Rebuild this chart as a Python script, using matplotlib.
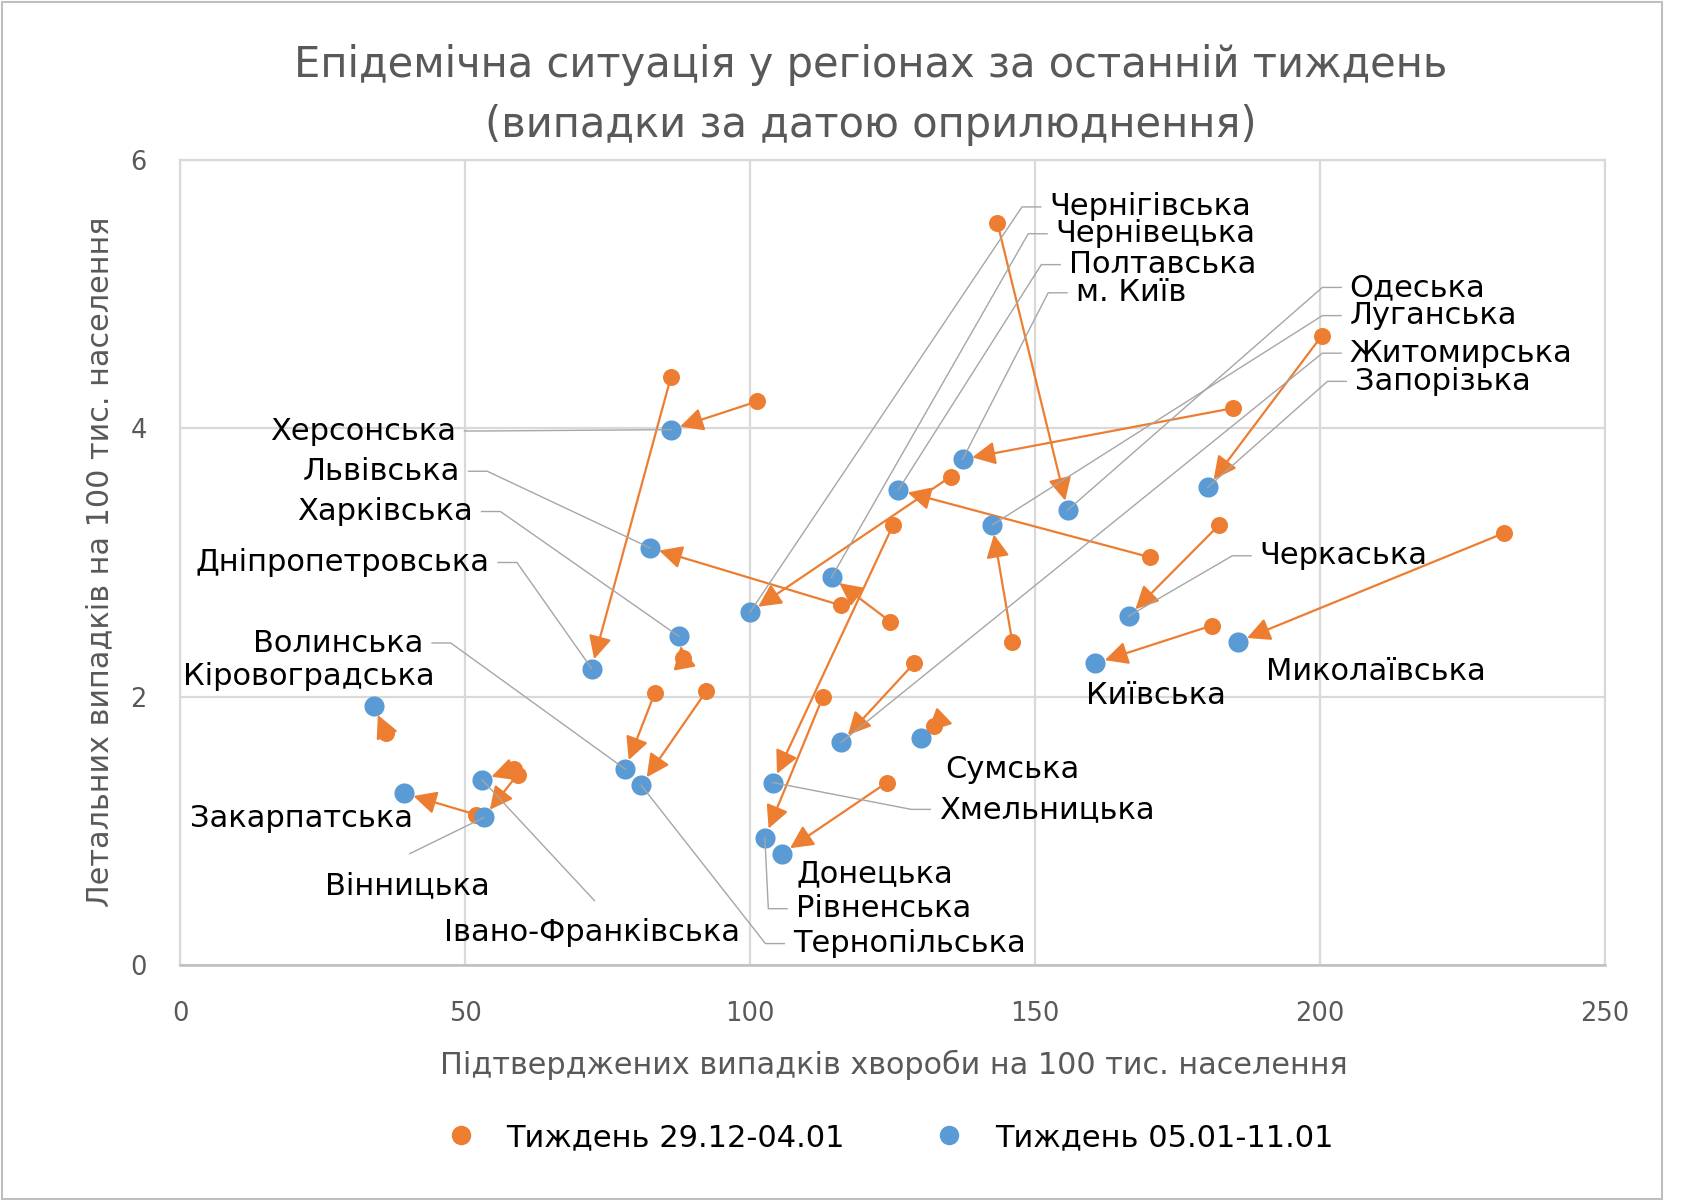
import matplotlib
matplotlib.use('Agg')
import matplotlib.pyplot as plt
from matplotlib.lines import Line2D
from matplotlib.patches import Rectangle

# regions in the order of the data table
regions = [
    'Чернігівська', 'Чернівецька', 'Полтавська', 'м. Київ', 'Одеська',
    'Луганська', 'Житомирська', 'Запорізька', 'Херсонська', 'Львівська',
    'Харківська', 'Дніпропетровська', 'Черкаська', 'Волинська',
    'Кіровоградська', 'Київська', 'Миколаївська', 'Сумська', 'Хмельницька',
    'Закарпатська', 'Вінницька', 'Донецька', 'Рівненська',
    'Івано-Франківська', 'Тернопільська',
]

# week 29.12-04.01
cases_w1 = [135.2, 124.6, 170.1, 184.7, 143.4, 146.0, 128.8, 200.3, 101.2, 116.0,
            88.2, 86.1, 182.3, 83.3, 36.1, 181.0, 232.3, 132.2, 125.1, 52.0,
            59.2, 124.0, 112.8, 58.5, 92.3]
deaths_w1 = [3.64, 2.56, 3.04, 4.15, 5.53, 2.41, 2.25, 4.69, 4.20, 2.68,
             2.29, 4.38, 3.28, 2.03, 1.73, 2.53, 3.22, 1.78, 3.28, 1.12,
             1.42, 1.36, 2.00, 1.46, 2.04]

# week 05.01-11.01
cases_w2 = [100.0, 114.3, 126.0, 137.3, 155.7, 142.5, 116.0, 180.3, 86.1, 82.4,
            87.5, 72.2, 166.4, 78.1, 34.0, 160.6, 185.6, 130.0, 104.0, 39.3,
            53.3, 105.6, 102.6, 53.0, 80.9]
deaths_w2 = [2.63, 2.89, 3.54, 3.77, 3.39, 3.28, 1.66, 3.56, 3.99, 3.11,
             2.45, 2.21, 2.60, 1.46, 1.93, 2.25, 2.41, 1.69, 1.36, 1.28,
             1.10, 0.83, 0.95, 1.38, 1.34]

legend_labels = ['Тиждень 29.12-04.01', 'Тиждень 05.01-11.01']

# label placement: (x, y, ha, leader) ; leader: 'h' stub, 'v' from top, None
label_pos = {
    'Чернігівська': (152.5, 5.65, 'left', 'h'),
    'Чернівецька': (153.6, 5.45, 'left', 'h'),
    'Полтавська': (155.9, 5.22, 'left', 'h'),
    'м. Київ': (157.1, 5.01, 'left', 'h'),
    'Одеська': (205.2, 5.05, 'left', 'h'),
    'Луганська': (205.2, 4.84, 'left', 'h'),
    'Житомирська': (205.2, 4.56, 'left', 'h'),
    'Запорізька': (206.1, 4.35, 'left', 'h'),
    'Херсонська': (48.4, 3.98, 'right', 'h'),
    'Львівська': (49.1, 3.68, 'right', 'h'),
    'Харківська': (51.4, 3.38, 'right', 'h'),
    'Дніпропетровська': (54.3, 3.00, 'right', 'h'),
    'Черкаська': (189.4, 3.05, 'left', 'h'),
    'Волинська': (42.7, 2.40, 'right', 'h'),
    'Кіровоградська': (44.6, 2.15, 'right', None),
    'Київська': (158.9, 2.01, 'left', None),
    'Миколаївська': (190.6, 2.19, 'left', None),
    'Сумська': (134.2, 1.46, 'left', None),
    'Хмельницька': (133.1, 1.16, 'left', 'h'),
    'Закарпатська': (40.9, 1.09, 'right', None),
    'Вінницька': (39.8, 0.59, 'center', 'v'),
    'Донецька': (108.2, 0.68, 'left', None),
    'Рівненська': (108.0, 0.42, 'left', 'h'),
    'Івано-Франківська': (72.2, 0.24, 'center', 'v'),
    'Тернопільська': (107.5, 0.16, 'left', 'h'),
}

ORANGE = '#ED7D31'
BLUE = '#5B9BD5'
GREY_TXT = '#595959'
GRID = '#d9d9d9'
LEADER = '#a6a6a6'

plt.rcParams['font.family'] = ['DejaVu Sans']

fig = plt.figure(figsize=(16.86, 12.0), dpi=100)
ax = fig.add_axes([0.1068, 0.1958, 0.8452, 0.6709])

ax.set_xlim(0, 250)
ax.set_ylim(0, 6)
ax.set_xticks([0, 50, 100, 150, 200, 250])
ax.set_yticks([0, 2, 4, 6])
ax.grid(True, color=GRID, lw=1.6, zorder=0)
for side in ['top', 'right', 'left']:
    ax.spines[side].set_color(GRID)
    ax.spines[side].set_linewidth(1.6)
ax.spines['bottom'].set_color('#bfbfbf')
ax.spines['bottom'].set_linewidth(1.8)
ax.tick_params(length=0, labelsize=18.5, labelcolor=GREY_TXT)
ax.tick_params(axis='x', pad=26)
ax.tick_params(axis='y', pad=24)

# arrows from first week to second week
for xo, yo, xb, yb in zip(cases_w1, deaths_w1, cases_w2, deaths_w2):
    ax.annotate('', xy=(xb, yb), xytext=(xo, yo),
                arrowprops=dict(arrowstyle='-|>,head_length=0.7,head_width=0.35',
                                mutation_scale=20, color=ORANGE, lw=1.6,
                                shrinkA=0, shrinkB=7),
                zorder=3)

ax.scatter(cases_w1, deaths_w1, s=150, color=ORANGE, zorder=3, linewidths=0)
ax.scatter(cases_w2, deaths_w2, s=210, color=BLUE, zorder=4, linewidths=0)

# labels and leader lines
for name, xb, yb in zip(regions, cases_w2, deaths_w2):
    lx, ly, ha, leader = label_pos[name]
    ax.text(lx, ly, name, ha=ha, va='center', fontsize=22, color='black', zorder=6)
    if leader == 'h':
        if ha == 'left':
            sx, ex = lx - 1.5, lx - 4.8
        else:
            sx, ex = lx + 1.5, lx + 4.8
        ax.plot([sx, ex, xb], [ly, ly, yb], color=LEADER, lw=1.0, zorder=5)
    elif leader == 'v':
        ax.plot([lx + 0.5, xb], [ly + 0.24, yb], color=LEADER, lw=1.0, zorder=5)

# titles
fig.text(0.5166, 0.921,
         'Епідемічна ситуація у регіонах за останній тиждень\n(випадки за датою оприлюднення)',
         ha='center', va='center', fontsize=30, color=GREY_TXT, linespacing=1.55)
fig.text(0.530, 0.1125, 'Підтверджених випадків хвороби на 100 тис. населення',
         ha='center', va='center', fontsize=21.8, color=GREY_TXT)
fig.text(0.0593, 0.5317, 'Летальних випадків на 100 тис. населення',
         ha='center', va='center', rotation=90, fontsize=21.8, color=GREY_TXT)

handles = [Line2D([], [], marker='o', ls='', color=ORANGE, markersize=13),
           Line2D([], [], marker='o', ls='', color=BLUE, markersize=13)]
fig.legend(handles, legend_labels, loc='center', bbox_to_anchor=(0.523, 0.052),
           ncol=2, frameon=False, fontsize=22, handletextpad=0.5,
           columnspacing=2.4)

# chart area border
fig.patches.append(Rectangle((0.001, 0.001), 1660 / 1686, 0.997,
                             transform=fig.transFigure, fill=False,
                             edgecolor='#bfbfbf', lw=1.5))

fig.savefig('out.png', dpi=100)
